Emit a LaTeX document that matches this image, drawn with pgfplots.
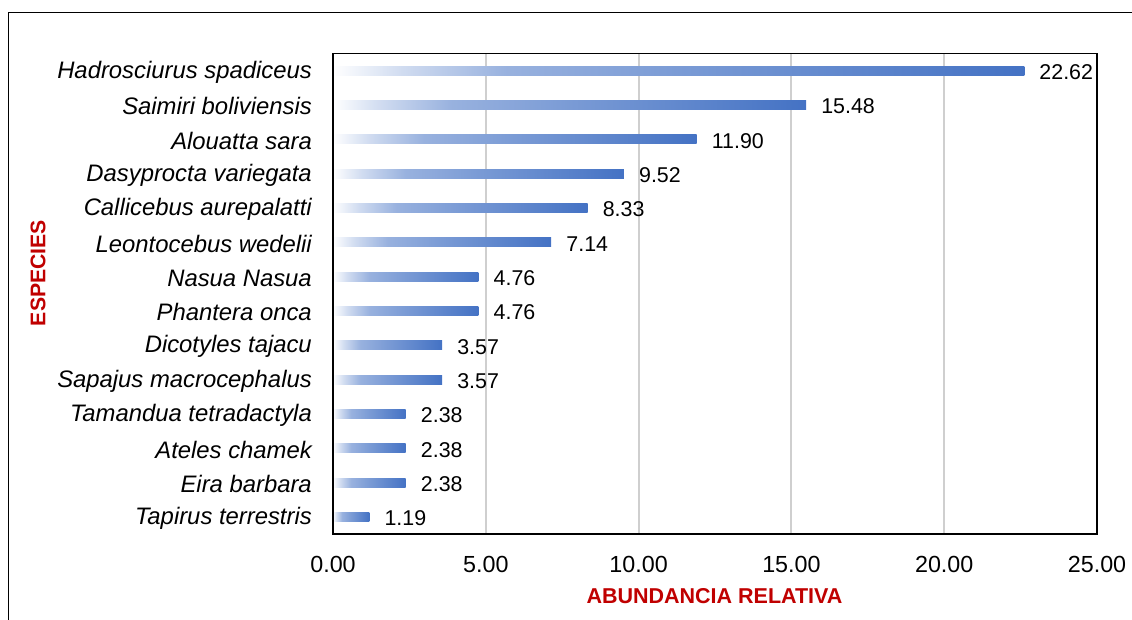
\documentclass[border=0pt]{standalone}
\usepackage{pgfplots}
\pgfplotsset{compat=1.18}
\usepackage{fontspec}
\setmainfont{Liberation Sans}
\definecolor{barblue}{HTML}{4472C4}
\definecolor{titlered}{HTML}{C00000}
\definecolor{gridgray}{HTML}{CFCFCF}
\pgfdeclarehorizontalshading{barshade}{100bp}{color(0bp)=(white); color(25bp)=(white); color(30bp)=(barblue!25!white); color(37.5bp)=(barblue!55!white); color(50bp)=(barblue!71!white); color(75bp)=(barblue); color(100bp)=(barblue)}
\pgfplotsset{gbar/.style={xbar, bar width=9bp, bar shift=0pt, draw=none, /tikz/shade, /tikz/shading=barshade, /tikz/shading angle=0}}
\begin{document}
\begin{tikzpicture}[x=1bp,y=1bp]
\useasboundingbox (0,0) rectangle (1132,620);
\draw[line width=1.3bp] (8.5,0) -- (8.5,607.3) -- (1132,607.3);
\begin{axis}[
  at={(333bp,86bp)}, anchor=south west,
  scale only axis, width=764bp, height=480.5bp,
  xmin=0, xmax=25, ymin=-0.5, ymax=13.5,
  xtick={0,5,10,15,20,25},
  ytick={0,...,13},
  yticklabels={Tapirus terrestris, Eira barbara, Ateles chamek, Tamandua tetradactyla, Sapajus macrocephalus, Dicotyles tajacu, Phantera onca, Nasua Nasua, Leontocebus wedelii, Callicebus aurepalatti, Dasyprocta variegata, Alouatta sara, Saimiri boliviensis, Hadrosciurus spadiceus},
  /pgf/number format/assume math mode=true,
  xticklabel={\pgfmathprintnumber[fixed,fixed zerofill,precision=2]{\tick}},
  x tick label style={font=\fontsize{23.3bp}{28bp}\selectfont, anchor=north, inner sep=0pt, yshift=-22bp},
  y tick label style={font=\fontsize{23.85bp}{28bp}\selectfont\itshape, anchor=east, inner sep=0pt, xshift=-21bp, yshift=-1.5bp},
  major tick length=0pt,
  xmajorgrids, major grid style={gridgray, line width=2bp},
  axis line style={line width=1.5bp, black},
  point meta=x,
  nodes near coords={\pgfmathprintnumber[fixed,fixed zerofill,precision=2]{\pgfplotspointmeta}},
  every node near coord/.append style={anchor=west, inner sep=0pt, xshift=15bp, yshift=-1.5bp, font=\fontsize{21.4bp}{25bp}\selectfont, black},
  after end axis/.code={\draw[line width=2.6bp, black] (rel axis cs:0,0) -- (rel axis cs:0,1);},
]
\addplot[gbar] coordinates {(1.19,0)};
\addplot[gbar] coordinates {(2.38,1)};
\addplot[gbar] coordinates {(2.38,2)};
\addplot[gbar] coordinates {(2.38,3)};
\addplot[gbar] coordinates {(3.57,4)};
\addplot[gbar] coordinates {(3.57,5)};
\addplot[gbar] coordinates {(4.76,6)};
\addplot[gbar] coordinates {(4.76,7)};
\addplot[gbar] coordinates {(7.14,8)};
\addplot[gbar] coordinates {(8.33,9)};
\addplot[gbar] coordinates {(9.52,10)};
\addplot[gbar] coordinates {(11.90,11)};
\addplot[gbar] coordinates {(15.48,12)};
\addplot[gbar] coordinates {(22.62,13)};
\end{axis}
\node[rotate=90, font=\fontsize{21.2bp}{25bp}\selectfont\bfseries, text=titlered] at (38,347) {ESPECIES};
\node[anchor=base, font=\fontsize{21.5bp}{25bp}\selectfont\bfseries, text=titlered] at (714.5,16) {ABUNDANCIA RELATIVA};
\end{tikzpicture}
\end{document}
